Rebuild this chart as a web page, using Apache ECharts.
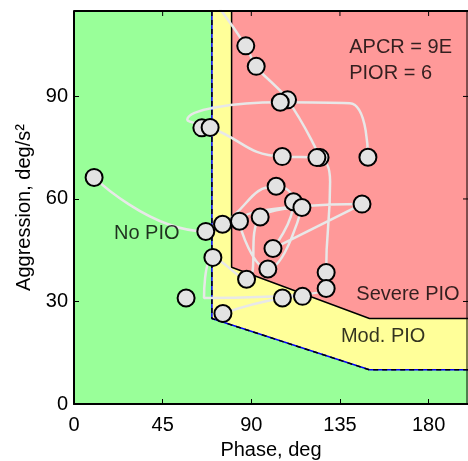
<!DOCTYPE html>
<html>
<head>
<meta charset="utf-8">
<script src="https://cdn.jsdelivr.net/npm/echarts@6/dist/echarts.min.js"></script>
<style>
  html, body { margin: 0; padding: 0; background: #fff; }
  #chart { width: 468px; height: 461px; }
</style>
</head>
<body>
<div id="chart"></div>
<script>
// PIO boundary regions (phase, aggression)
const modRegion = [[70, 115], [70, 25], [150, 10], [200, 10], [200, 115]]
const severeRegion = [[80, 115], [80, 40], [150, 25], [200, 25], [200, 115]]
const modEdge = [[70, 115], [70, 25], [150, 10], [200, 10]]
const severeEdge = [[80, 115], [80, 40], [150, 25], [200, 25]]

// markers
const phase = [10.2, 87.2, 92.5, 108.4, 104.7, 64.9, 69.1, 105.7, 124.9, 123.3, 149.2,
  102.6, 111.4, 115.7, 146.2, 94.5, 84.0, 75.4, 66.9, 101.0, 70.5, 98.4, 128.0,
  87.6, 128.0, 116.0, 105.8, 56.9, 75.6]
const aggression = [66.3, 104.8, 98.8, 89.0, 88.3, 80.8, 80.9, 72.4, 72.1, 72.1, 72.2,
  63.7, 59.2, 57.5, 58.5, 54.7, 53.5, 52.6, 50.5, 45.5, 42.9, 39.5, 38.5,
  36.5, 33.8, 31.5, 31.0, 31.0, 26.5]

// trace of the grey trajectory (estimated)
const trace1 = [[10.2, 66.3], [66.9, 50.5], [75.4, 52.6], [102.6, 63.7], [111.4, 59.2],
  [101.0, 45.5], [146.2, 58.5], [84.0, 53.5], [98.4, 39.5], [115.7, 57.5], [94.5, 54.7],
  [87.6, 36.5], [70.5, 42.9], [66, 31], [128.0, 33.8], [128.0, 38.5], [130, 65],
  [123.3, 72.1], [105.7, 72.4], [69.1, 80.9], [57.5, 83.2], [104.7, 88.3], [140, 88],
  [149.2, 72.2]]
const trace2 = [[71, 118], [87.2, 104.8], [92.5, 98.8], [108.4, 89.0], [124.9, 72.1]]
const trace3 = [[75.6, 26.5], [105.8, 31.0], [116.0, 31.5]]

const notes = [
  { name: 'APCR = 9E', value: [139.7, 104.3] },
  { name: 'PIOR = 6', value: [139.7, 96.8] },
  { name: 'No PIO', value: [20.3, 50.0] },
  { name: 'Severe PIO', value: [143.3, 32.1] },
  { name: 'Mod. PIO', value: [135.5, 19.7] }
]

const xTicks = [45, 90, 135, 180]
const yTicks = [30, 60, 90]
const xMax = 200, yMax = 115

const font = 'Liberation Sans, Arial, Helvetica, sans-serif'
const points = phase.map((p, i) => [p, aggression[i]])

function regionSeries(region, color, z) {
  return {
    type: 'custom', z: z, silent: true,
    renderItem: function (params, api) {
      const pts = region.map(d => api.coord(d))
      return { type: 'polygon', shape: { points: pts }, style: { fill: color } }
    },
    data: [[0, 0]],
    clip: true
  }
}

function traceSeries(d) {
  return {
    type: 'line', data: d, smooth: 0.5, symbol: 'none', z: 4, silent: true,
    lineStyle: { color: '#e8e8e8', width: 2.5 }
  }
}

const chart = echarts.init(document.getElementById('chart'))
chart.setOption({
  animation: false,
  grid: {
    left: 74, right: 0, top: 11, bottom: 57, show: true, backgroundColor: '#99ff99',
    borderWidth: 0, containLabel: false, outerBoundsMode: 'none'
  },
  xAxis: {
    type: 'value', min: 0, max: xMax, interval: 45, z: 10,
    name: 'Phase, deg', nameLocation: 'middle', nameGap: 36,
    nameTextStyle: { fontSize: 20, color: '#000', fontFamily: font },
    axisLine: { show: true, onZero: false, lineStyle: { color: '#000', width: 2 } },
    axisTick: { show: true, inside: true, length: 5, lineStyle: { color: '#000' } },
    axisLabel: { fontSize: 20, color: '#000', fontFamily: font, margin: 11, showMaxLabel: false },
    splitLine: { show: false }
  },
  yAxis: {
    type: 'value', min: 0, max: yMax, interval: 30, z: 10,
    name: 'Aggression, deg/s²', nameLocation: 'middle', nameGap: 37,
    nameTextStyle: { fontSize: 20, color: '#000', fontFamily: font },
    axisLine: { show: true, onZero: false, lineStyle: { color: '#000', width: 2 } },
    axisTick: { show: true, inside: true, length: 5, lineStyle: { color: '#000' } },
    axisLabel: { fontSize: 20, color: '#000', fontFamily: font, margin: 6, showMaxLabel: false },
    splitLine: { show: false }
  },
  series: [
    regionSeries(modRegion, '#ffff99', 1),
    regionSeries(severeRegion, '#ff9999', 2),
    { type: 'line', data: modEdge, symbol: 'none', z: 3, lineStyle: { color: '#0000ff', width: 1.5 } },
    { type: 'line', data: modEdge, symbol: 'none', z: 3, lineStyle: { color: '#000', width: 1.5, type: [5, 4] } },
    { type: 'line', data: severeEdge, symbol: 'none', z: 3, lineStyle: { color: '#000', width: 1.5 } },
    traceSeries(trace1),
    traceSeries(trace2),
    traceSeries(trace3),
    {
      type: 'scatter', data: points, z: 5, symbolSize: 17,
      itemStyle: { color: '#e3e3e3', borderColor: '#000', borderWidth: 2, opacity: 1 }
    },
    {
      type: 'scatter', data: notes, z: 6, symbolSize: 0, silent: true,
      label: {
        show: true, position: 'right', distance: 0, formatter: '{b}',
        fontSize: 20, color: '#000', fontFamily: font
      }
    }
  ]
})

// box top edge + right edge with inward ticks (matlab style)
const toPx = v => chart.convertToPixel({ xAxisIndex: 0, yAxisIndex: 0 }, v)
const tl = toPx([0, yMax]), tr = toPx([xMax, yMax]), br = toPx([xMax, 0])
const frame = [
  { type: 'line', shape: { x1: tl[0], y1: tl[1], x2: tr[0], y2: tr[1] }, style: { stroke: '#000', lineWidth: 2 } },
  { type: 'line', shape: { x1: tr[0] - 1, y1: tr[1], x2: br[0] - 1, y2: br[1] }, style: { stroke: '#000', lineWidth: 1 } }
]
xTicks.forEach(t => {
  const p = toPx([t, yMax])
  frame.push({ type: 'line', shape: { x1: p[0], y1: p[1], x2: p[0], y2: p[1] + 5 }, style: { stroke: '#000', lineWidth: 1 } })
})
yTicks.forEach(t => {
  const p = toPx([xMax, t])
  frame.push({ type: 'line', shape: { x1: p[0], y1: p[1], x2: p[0] - 5, y2: p[1] }, style: { stroke: '#000', lineWidth: 1 } })
})
frame.forEach(g => { g.z = 20; g.silent = true })
chart.setOption({ graphic: { elements: frame } })
</script>
</body>
</html>
